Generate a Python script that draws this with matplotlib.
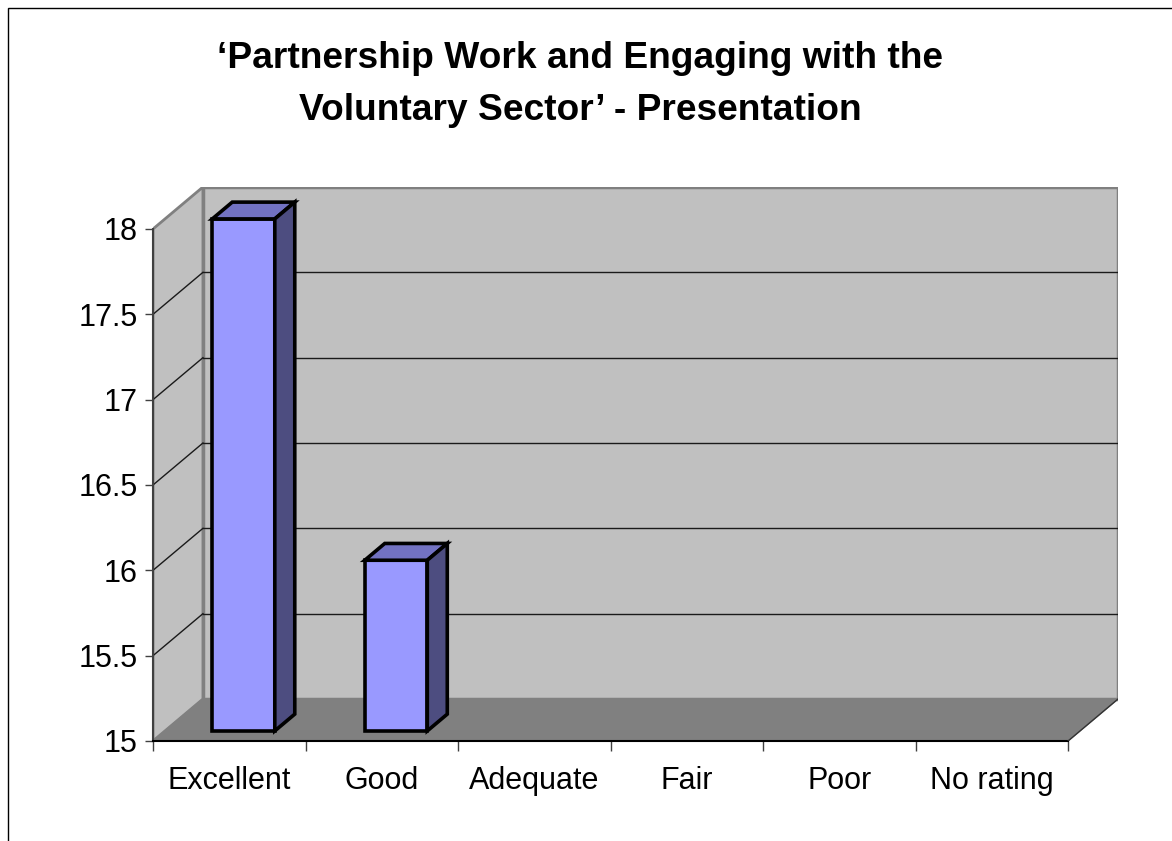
import matplotlib
matplotlib.use("Agg")
import matplotlib.pyplot as plt
from matplotlib.patches import Polygon, Rectangle

categories = ["Excellent", "Good", "Adequate", "Fair", "Poor", "No rating"]
values = [18, 16, 0, 0, 0, 0]
y_ticks = [15, 15.5, 16, 16.5, 17, 17.5, 18]
y_tick_labels = ["15", "15.5", "16", "16.5", "17", "17.5", "18"]
title = "\u2018Partnership Work and Engaging with the\nVoluntary Sector\u2019 - Presentation"

W, H = 1172, 841
fig = plt.figure(figsize=(W / 100, H / 100), dpi=100)
fig.patch.set_facecolor("white")
plt.rcParams['font.family'] = ['Liberation Sans', 'DejaVu Sans']

# outer frame (left and top edges visible)
fig.add_artist(Rectangle((7.5 / W, -0.1), 1.2, 1.1 - 7.5 / H, transform=fig.transFigure,
                         fill=False, edgecolor="black", linewidth=1.0))

ymin, ymax = y_ticks[0], y_ticks[-1]
n = len(categories)
px_per_cat = (1069 - 153) / n
px_per_unit = (741 - 229) / (ymax - ymin)
DX = 50 / px_per_cat      # depth offset in x data units
DY = 42 / px_per_unit     # depth offset in y data units

ax = fig.add_axes([153 / W, (H - 741) / H, (1118 - 153) / W, (741 - 187) / H])
ax.set_xlim(0, n + DX)
ax.set_ylim(ymin, ymax + DY)
for s in ax.spines.values():
    s.set_visible(False)
ax.patch.set_visible(False)

wall = "#C0C0C0"
floor = "#808080"
edge_grey = "#808080"

# back wall
ax.add_patch(Rectangle((DX, ymin + DY), n, ymax - ymin, facecolor=wall,
                       edgecolor=edge_grey, linewidth=2.5, zorder=1))
# left wall
ax.add_patch(Polygon([(0, ymin), (DX, ymin + DY), (DX, ymax + DY), (0, ymax)],
                     closed=True, facecolor=wall, edgecolor=edge_grey, linewidth=2.0, zorder=1))
# floor
ax.add_patch(Polygon([(0, ymin), (n, ymin), (n + DX, ymin + DY), (DX, ymin + DY)],
                     closed=True, facecolor=floor, edgecolor=edge_grey, linewidth=1.0, zorder=1.5))

# gridlines
for v in y_ticks[1:-1]:
    ax.plot([DX, n + DX], [v + DY, v + DY], color="#1a1a1a", linewidth=1.0, zorder=2)
    ax.plot([0, DX], [v, v + DY], color="#1a1a1a", linewidth=1.0, zorder=2)

# front axis lines
ax.plot([0, 0], [ymin, ymax], color="#404040", linewidth=1.5, zorder=3, clip_on=False)
ax.plot([0, n], [ymin, ymin], color="black", linewidth=1.5, zorder=3, clip_on=False)
ax.plot([n, n + DX], [ymin, ymin + DY], color="#333333", linewidth=1.0, zorder=3)

# bars
f0 = 0.24   # front position of bar in depth fraction
fd = 0.40   # bar depth fraction
bl = 0.31   # bar left offset within category
bw = 0.41   # bar width
front = "#9999FF"
topc = "#7272C2"
sidec = "#4D4D80"
lw = 2.6
for i, v in enumerate(values):
    if v <= ymin:
        continue
    x0 = i + bl + f0 * DX
    b0 = ymin + f0 * DY
    ax.bar(x0, v - ymin, width=bw, bottom=b0, align="edge", color=front,
           edgecolor="black", linewidth=lw, zorder=5)
    xr = x0 + bw
    top = v + f0 * DY
    ax.add_patch(Polygon([(x0, top), (xr, top), (xr + fd * DX, top + fd * DY),
                          (x0 + fd * DX, top + fd * DY)], closed=True, facecolor=topc,
                         edgecolor="black", linewidth=lw, zorder=5, joinstyle="miter"))
    ax.add_patch(Polygon([(xr, b0), (xr + fd * DX, b0 + fd * DY), (xr + fd * DX, top + fd * DY),
                          (xr, top)], closed=True, facecolor=sidec,
                         edgecolor="black", linewidth=lw, zorder=5, joinstyle="miter"))

# ticks
ax.set_yticks(y_ticks)
ax.set_yticklabels(y_tick_labels, fontsize=22)
ax.tick_params(axis="y", direction="out", length=6, width=1, color="#404040", pad=5)
ax.set_xticks(range(n + 1))
ax.set_xticklabels([])
ax.set_xticks([i + 0.5 for i in range(n)], minor=True)
ax.set_xticklabels(categories, minor=True, fontsize=22)
ax.tick_params(axis="x", which="major", direction="out", length=7, width=1, color="#404040")
ax.tick_params(axis="x", which="minor", length=0, pad=18)

fig.text(580 / W, 1 - 84.5 / H, title, ha="center", va="center", fontsize=26.7,
         fontweight="bold", linespacing=1.62)

fig.savefig("out.png", dpi=100)
